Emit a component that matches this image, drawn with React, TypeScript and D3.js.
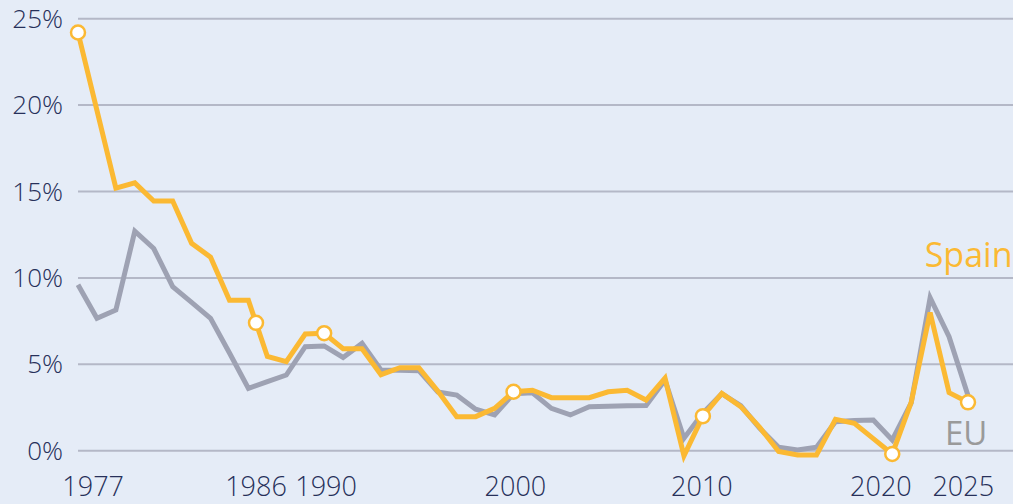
import React from "react";
import * as d3 from "d3";

const years: number[] = d3.range(1977, 2025);

const spain: number[] = [
  24.2, 19.7, 15.2, 15.5, 14.45, 14.45, 12.0, 11.2, 8.7, 8.7,
  5.45, 5.15, 6.75, 6.8, 5.9, 5.9, 4.4, 4.8, 4.8, 3.45,
  1.97, 1.97, 2.45, 3.41, 3.5, 3.07, 3.07, 3.07, 3.41, 3.5,
  2.93, 4.2, -0.3, 2.0, 3.32, 2.55, 1.35, -0.05, -0.25, -0.25,
  1.82, 1.58, 0.7, -0.19, 2.8, 8.0, 3.36, 2.8,
];

const eu: number[] = [
  9.6, 7.66, 8.14, 12.7, 11.7, 9.49, 8.58, 7.66, 5.65, 3.61,
  4.0, 4.38, 6.02, 6.06, 5.4, 6.21, 4.67, 4.65, 4.63, 3.4,
  3.22, 2.4, 2.07, 3.3, 3.35, 2.45, 2.07, 2.55, 2.57, 2.6,
  2.62, 4.09, 0.72, 2.18, 3.3, 2.6, 1.3, 0.2, 0.04, 0.2,
  1.68, 1.75, 1.78, 0.62, 2.76, 8.85, 6.6, 3.2,
];

const markerYears: number[] = [1977, 1986.4, 1990, 2000, 2010, 2020, 2024];
const markerValues: number[] = [24.2, 7.4, 6.8, 3.41, 2.0, -0.19, 2.8];

const xTickLabels: string[] = ["1977", "1986", "1990", "2000", "2010", "2020", "2025"];
const xTickAt: number[] = [1977.8, 1986.4, 1990.1, 2000.1, 2009.95, 2019.4, 2023.75];

const yTicks: number[] = [0, 5, 10, 15, 20, 25];

const W = 1013;
const H = 504;
const FONT = "'Open Sans', 'Noto Sans', sans-serif";
const SPAIN_COLOR = "#fbb933";
const EU_COLOR = "#9ea2b3";

export default function App() {
  const x = d3.scaleLinear().domain([1977, 2024]).range([78, 968]);
  const y = d3.scaleLinear().domain([0, 25]).range([450.7, 18.7]);

  const line = d3
    .line<number>()
    .x((_, i) => x(years[i]))
    .y((d) => y(d))
    .curve(d3.curveLinear);

  return (
    <div style={{ position: "absolute", left: 0, top: 0, width: W, height: H }}>
      <svg width={W} height={H} style={{ display: "block" }}>
        <rect x={0} y={0} width={W} height={H} fill="#e5ecf7" />
        {yTicks.map((t) => (
          <g key={t}>
            <line
              x1={x(1977)}
              x2={W}
              y1={y(t)}
              y2={y(t)}
              stroke="#b4b8c7"
              strokeWidth={2}
            />
            <text
              x={63}
              y={y(t)}
              dy="0.35em"
              textAnchor="end"
              fontFamily={FONT}
              fontWeight={300}
              fontSize={26}
              fill="#27305a"
            >
              {t}%
            </text>
          </g>
        ))}
        {xTickLabels.map((lab, i) => (
          <text
            key={lab}
            x={x(xTickAt[i])}
            y={496}
            textAnchor="middle"
            fontFamily={FONT}
            fontWeight={300}
            fontSize={27}
            fill="#27305a"
          >
            {lab}
          </text>
        ))}
        <path
          d={line(eu) || ""}
          fill="none"
          stroke={EU_COLOR}
          strokeWidth={5}
          strokeLinejoin="miter"
        />
        <path
          d={line(spain) || ""}
          fill="none"
          stroke={SPAIN_COLOR}
          strokeWidth={5}
          strokeLinejoin="miter"
        />
        {markerYears.map((yr, i) => (
          <circle
            key={yr}
            cx={x(yr)}
            cy={y(markerValues[i])}
            r={7}
            fill="#ffffff"
            stroke={SPAIN_COLOR}
            strokeWidth={2.5}
          />
        ))}
        <text
          x={x(2026.35)}
          y={y(10.63)}
          textAnchor="end"
          fontFamily={FONT}
          fontWeight={400}
          fontSize={34}
          fill={SPAIN_COLOR}
        >
          Spain
        </text>
        <text
          x={x(2023.9)}
          y={y(0.33)}
          textAnchor="middle"
          fontFamily={FONT}
          fontWeight={400}
          fontSize={33}
          fill="#9a9a9a"
        >
          EU
        </text>
      </svg>
    </div>
  );
}
